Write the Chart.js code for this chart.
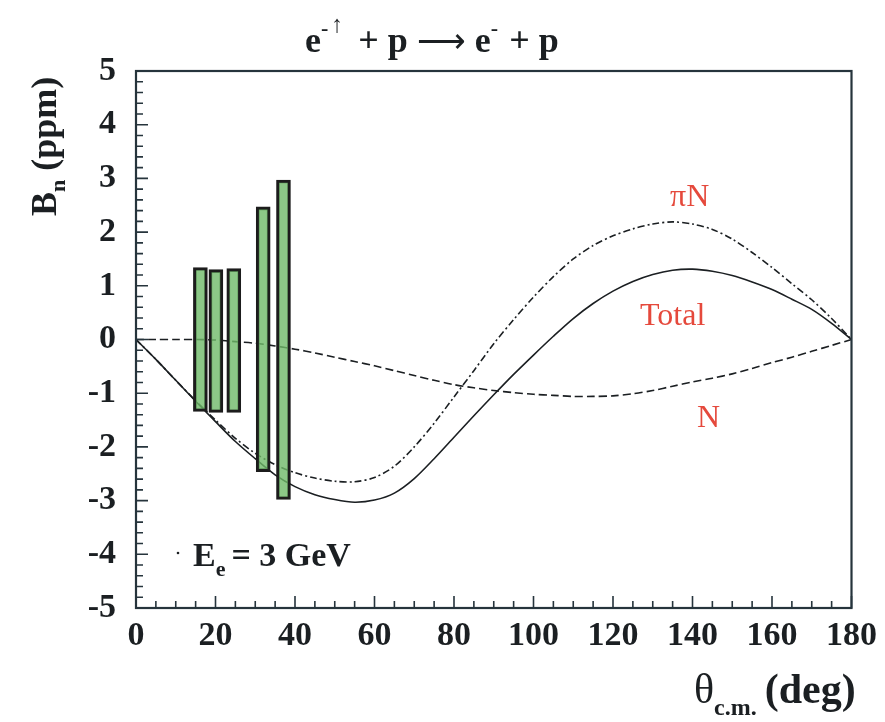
<!DOCTYPE html>
<html>
<head>
<meta charset="utf-8">
<script src="https://cdn.jsdelivr.net/npm/chart.js@4"></script>
<style>
  html, body { margin: 0; background: #fff; }
  canvas { display: block; }
</style>
</head>
<body>
<canvas id="bn" width="885" height="722"></canvas>
<script>
// Beam-normal single spin asymmetry B_n vs c.m. scattering angle, E_e = 3 GeV

const angles = [0, 5, 10, 15, 20, 25, 30, 35, 40, 45, 50, 55, 60, 65, 70, 75, 80, 85, 90,
  95, 100, 105, 110, 115, 120, 125, 130, 135, 140, 145, 150, 155, 160, 165, 170, 175, 180];

// total (N + piN intermediate states)
const bnTotal = [0, -0.37, -0.76, -1.15, -1.53, -1.90, -2.22, -2.52, -2.74, -2.89, -2.98, -3.03,
  -2.99, -2.86, -2.59, -2.22, -1.82, -1.42, -1.03, -0.65, -0.29, 0.06, 0.39, 0.67, 0.90,
  1.08, 1.21, 1.29, 1.31, 1.27, 1.19, 1.07, 0.93, 0.75, 0.56, 0.30, 0];

// piN intermediate states only
const bnPiN = [0, -0.37, -0.76, -1.14, -1.50, -1.84, -2.12, -2.33, -2.48, -2.58, -2.64, -2.65,
  -2.57, -2.36, -2.00, -1.56, -1.07, -0.58, -0.08, 0.37, 0.79, 1.17, 1.50, 1.75, 1.93,
  2.06, 2.15, 2.19, 2.15, 2.05, 1.87, 1.62, 1.34, 1.04, 0.74, 0.39, 0];

// nucleon intermediate state only
const bnN = [0, 0, 0, 0, -0.01, -0.04, -0.07, -0.12, -0.18, -0.25, -0.33, -0.41, -0.49,
  -0.58, -0.67, -0.76, -0.84, -0.90, -0.95, -0.99, -1.02, -1.04, -1.06, -1.06, -1.05,
  -1.01, -0.95, -0.87, -0.79, -0.72, -0.64, -0.54, -0.43, -0.33, -0.22, -0.11, 0];

// projected measurement ranges (angle, lower, upper)
const barAngles = [16.2, 20.1, 24.6, 32.0, 37.1];
const barLow = [-1.34, -1.36, -1.36, -2.46, -2.98];
const barHigh = [1.34, 1.30, 1.32, 2.47, 2.97];

const xTicks = [0, 20, 40, 60, 80, 100, 120, 140, 160, 180];
const yTicks = [-5, -4, -3, -2, -1, 0, 1, 2, 3, 4, 5];

const serif = '"Liberation Serif", "Times New Roman", serif';
const ink = '#1b1f22';
const red = '#e5493c';

function curve(values) {
  return angles.map((a, i) => ({ x: a, y: values[i] }));
}

// frame plus inward major/minor ticks
const frameTicks = {
  id: 'frameTicks',
  afterDatasetsDraw(chart) {
    const { ctx, chartArea: a, scales: { x, y } } = chart;
    ctx.save();
    ctx.strokeStyle = '#26343c';
    ctx.lineWidth = 1.6;
    ctx.beginPath();
    for (let i = 0; i <= 50; i++) {
      const py = y.getPixelForValue(-5 + i * 0.2);
      ctx.moveTo(a.left, py);
      ctx.lineTo(a.left + (i % 5 === 0 ? 12 : 7), py);
    }
    for (let i = 0; i <= 36; i++) {
      const px = x.getPixelForValue(i * 5);
      ctx.moveTo(px, a.bottom);
      ctx.lineTo(px, a.bottom - (i % 4 === 0 ? 12 : 7));
    }
    ctx.stroke();
    ctx.lineWidth = 2.2;
    ctx.strokeRect(a.left, a.top, a.right - a.left, a.bottom - a.top);
    ctx.restore();
  }
};

// text runs with sub/superscripts
function runs(ctx, x, y, parts) {
  let cx = x;
  for (const p of parts) {
    ctx.font = (p.bold === false ? '' : 'bold ') + p.size + 'px ' + serif;
    ctx.fillText(p.t, cx, y + (p.dy || 0));
    cx += ctx.measureText(p.t).width + (p.gap || 0);
  }
}

const labels = {
  id: 'labels',
  afterDraw(chart) {
    const { ctx } = chart;
    ctx.save();
    ctx.fillStyle = ink;
    ctx.textBaseline = 'alphabetic';

    // reaction
    runs(ctx, 305, 52, [
      { t: 'e', size: 36 },
      { t: '-', size: 22, dy: -17, gap: 3 },
      { t: '\u2191', size: 24, dy: -20, bold: false, gap: 6 },
      { t: ' + p ', size: 36 },
      { t: '\u27f6', size: 34, bold: false },
      { t: ' e', size: 36 },
      { t: '-', size: 22, dy: -17, gap: 2 },
      { t: ' + p', size: 36 }
    ]);

    // y title
    ctx.save();
    ctx.translate(56, 216);
    ctx.rotate(-Math.PI / 2);
    runs(ctx, 0, 0, [
      { t: 'B', size: 36 },
      { t: 'n', size: 22, dy: 9 },
      { t: ' (ppm)', size: 36 }
    ]);
    ctx.restore();

    // x title
    runs(ctx, 694, 703, [
      { t: '\u03b8', size: 42, bold: false },
      { t: 'c.m.', size: 24, dy: 12, gap: 8 },
      { t: '(deg)', size: 42 }
    ]);

    // beam energy
    runs(ctx, 193, 566, [
      { t: 'E', size: 34 },
      { t: 'e', size: 22, dy: 10, gap: 6 },
      { t: '= 3 GeV', size: 34 }
    ]);
    ctx.beginPath();
    ctx.arc(178, 553, 1.3, 0, Math.PI * 2);
    ctx.fill();

    // curve labels
    ctx.fillStyle = red;
    ctx.font = '32px ' + serif;
    ctx.fillText('\u03c0N', 670, 206);
    ctx.fillText('Total', 640, 325);
    ctx.fillText('N', 697, 427);
    ctx.restore();
  }
};

const tickFont = { family: serif, size: 34, weight: 'bold' };

new Chart(document.getElementById('bn'), {
  type: 'line',
  data: {
    datasets: [
      {
        type: 'bar',
        data: barAngles.map((a, i) => ({ x: a, y: [barLow[i], barHigh[i]] })),
        backgroundColor: 'rgba(111,186,105,0.8)',
        borderColor: '#1c1c1c',
        borderWidth: 3,
        borderSkipped: false,
        barThickness: 14,
        order: 0
      },
      {
        data: curve(bnTotal),
        borderColor: ink,
        borderWidth: 1.6,
        order: 1
      },
      {
        data: curve(bnPiN),
        borderColor: ink,
        borderWidth: 1.6,
        borderDash: [7, 3, 2, 3],
        order: 1
      },
      {
        data: curve(bnN),
        borderColor: ink,
        borderWidth: 1.6,
        borderDash: [8, 4],
        order: 1
      }
    ]
  },
  options: {
    responsive: false,
    animation: false,
    layout: { padding: { top: 71, right: 33, left: 0, bottom: 0 } },
    elements: {
      point: { radius: 0 },
      line: { tension: 0.3, fill: false }
    },
    plugins: {
      legend: { display: false },
      tooltip: { enabled: false },
      title: { display: false }
    },
    scales: {
      x: {
        type: 'linear',
        min: 0,
        max: 180,
        offset: false,
        border: { display: false },
        grid: { display: false, drawTicks: false, offset: false },
        afterBuildTicks: s => { s.ticks = xTicks.map(v => ({ value: v })); },
        afterFit: s => { s.height = 114; },
        ticks: { font: tickFont, color: ink, padding: 8, maxRotation: 0 }
      },
      y: {
        type: 'linear',
        min: -5,
        max: 5,
        border: { display: false },
        grid: { display: false, drawTicks: false },
        afterBuildTicks: s => { s.ticks = yTicks.map(v => ({ value: v })); },
        afterFit: s => { s.width = 136; },
        ticks: { font: tickFont, color: ink, padding: 20 }
      }
    }
  },
  plugins: [frameTicks, labels]
});
</script>
</body>
</html>
